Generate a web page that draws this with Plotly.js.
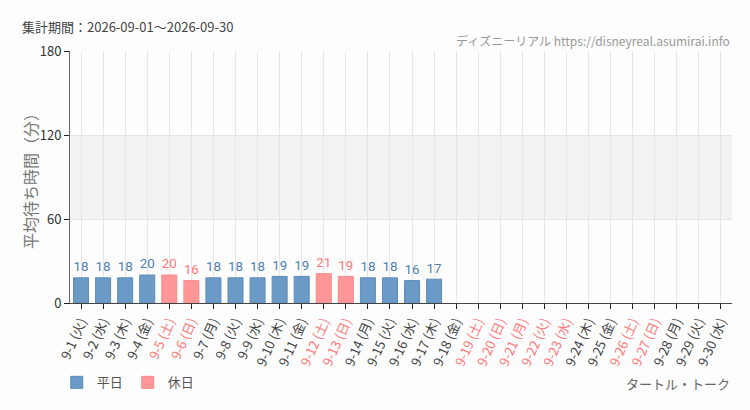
<!DOCTYPE html>
<html>
<head>
<meta charset="utf-8">
<script src="https://cdn.plot.ly/plotly-3.0.1.min.js"></script>
<style>
html,body{margin:0;padding:0;background:#fcfdfc;}
#chart{width:750px;height:410px;}
</style>
</head>
<body>
<div id="chart"></div>
<script>
const categories = ["9-1","9-2","9-3","9-4","9-5","9-6","9-7","9-8","9-9","9-10","9-11","9-12","9-13","9-14","9-15","9-16","9-17","9-18","9-19","9-20","9-21","9-22","9-23","9-24","9-25","9-26","9-27","9-28","9-29","9-30"];
const weekdays = ["火","水","木","金","土","日","月","火","水","木","金","土","日","月","火","水","木","金","土","日","月","火","水","木","金","土","日","月","火","水"];
const isHoliday = [0,0,0,0,1,1,0,0,0,0,0,1,1,0,0,0,0,0,1,1,1,1,1,0,0,1,1,0,0,0];
const waitValues = [18,18,18,20,20,16,18,18,18,19,19,21,19,18,18,16,17,null,null,null,null,null,null,null,null,null,null,null,null,null];
const yTicks = [0,60,120,180];

const blue = "#6b9ac7", pink = "#ff9698";
const blueText = "#4f80b3", pinkText = "#ff7777";

const weekdayVals = waitValues.map((v,i)=> isHoliday[i] ? null : v);
const holidayVals = waitValues.map((v,i)=> isHoliday[i] ? v : null);
const tickText = categories.map((c,i)=> {
  const t = c + " (" + weekdays[i] + ")";
  return isHoliday[i] ? '<span style="color:' + pinkText + '">' + t + '</span>' : t;
});

const traces = [
  {type:"bar", name:"平日", x:categories, y:weekdayVals,
   marker:{color:blue, line:{color:"#5d8cba", width:1}},
   text:weekdayVals.map(v=> v==null ? "" : String(v)), textposition:"outside",
   textfont:{color:blueText, size:15, family:"Roboto, 'Noto Sans CJK JP', sans-serif"},
   cliponaxis:false, hoverinfo:"skip"},
  {type:"bar", name:"休日", x:categories, y:holidayVals,
   marker:{color:pink, line:{color:"#f88a8c", width:1}},
   text:holidayVals.map(v=> v==null ? "" : String(v)), textposition:"outside",
   textfont:{color:pinkText, size:15, family:"Roboto, 'Noto Sans CJK JP', sans-serif"},
   cliponaxis:false, hoverinfo:"skip"}
];

const layout = {
  width:750, height:410,
  paper_bgcolor:"#fcfdfc", plot_bgcolor:"#fcfdfc",
  margin:{l:70, r:18, t:51, b:105},
  barmode:"relative", bargap:0.32,
  font:{family:"'Noto Sans CJK JP', sans-serif", color:"#444", size:12},
  showlegend:true,
  legend:{orientation:"h", x:-0.02, xanchor:"left", y:-0.315, yanchor:"middle",
          yref:"paper", font:{size:13, color:"#555"}, traceorder:"normal", itemwidth:30},
  xaxis:{type:"category", tickmode:"array", tickvals:categories, ticktext:tickText,
         tickangle:-66, ticks:"outside", ticklen:5, tickcolor:"#222",
         showline:true, linecolor:"#444", linewidth:1, automargin:false,
         showgrid:true, gridcolor:"#e6e6e6", gridwidth:1,
         tickfont:{size:13, color:"#444"}, range:[-0.5,29.5], fixedrange:true},
  yaxis:{range:[0,180], tickmode:"array", tickvals:yTicks, ticks:"outside", ticklen:5,
         tickcolor:"#222", showline:true, linecolor:"#666", linewidth:1,
         showgrid:true, gridcolor:"#e4e4e4", zeroline:false, automargin:false,
         tickfont:{size:13, color:"#333"}},
  shapes:[{type:"rect", xref:"paper", x0:0, x1:1, yref:"y", y0:60, y1:120,
           fillcolor:"#f0f0f0", opacity:0.8, line:{width:0}, layer:"below"}],
  annotations:[
    {xref:"paper", yref:"paper", x:0, xshift:-40, y:0.5, xanchor:"center", yanchor:"middle",
     textangle:-90, text:"平均待ち時間（分）", showarrow:false, font:{size:16, color:"#777"}},
    {xref:"paper", yref:"paper", x:-0.076, y:1.0, yshift:25, xanchor:"left", yanchor:"middle",
     text:"集計期間：2026-09-01～2026-09-30", showarrow:false, font:{size:13, color:"#444"}},
    {xref:"paper", yref:"paper", x:1.0, y:1.0, yshift:11, xanchor:"right", yanchor:"middle",
     text:"ディズニーリアル https://disneyreal.asumirai.info", showarrow:false, font:{size:12, color:"#999"}},
    {xref:"paper", yref:"paper", x:1.0, y:0, yshift:-80, xanchor:"right", yanchor:"middle",
     text:"タートル・トーク", showarrow:false, font:{size:13, color:"#666"}}
  ]
};

Plotly.newPlot("chart", traces, layout, {displayModeBar:false, staticPlot:true});
</script>
</body>
</html>
